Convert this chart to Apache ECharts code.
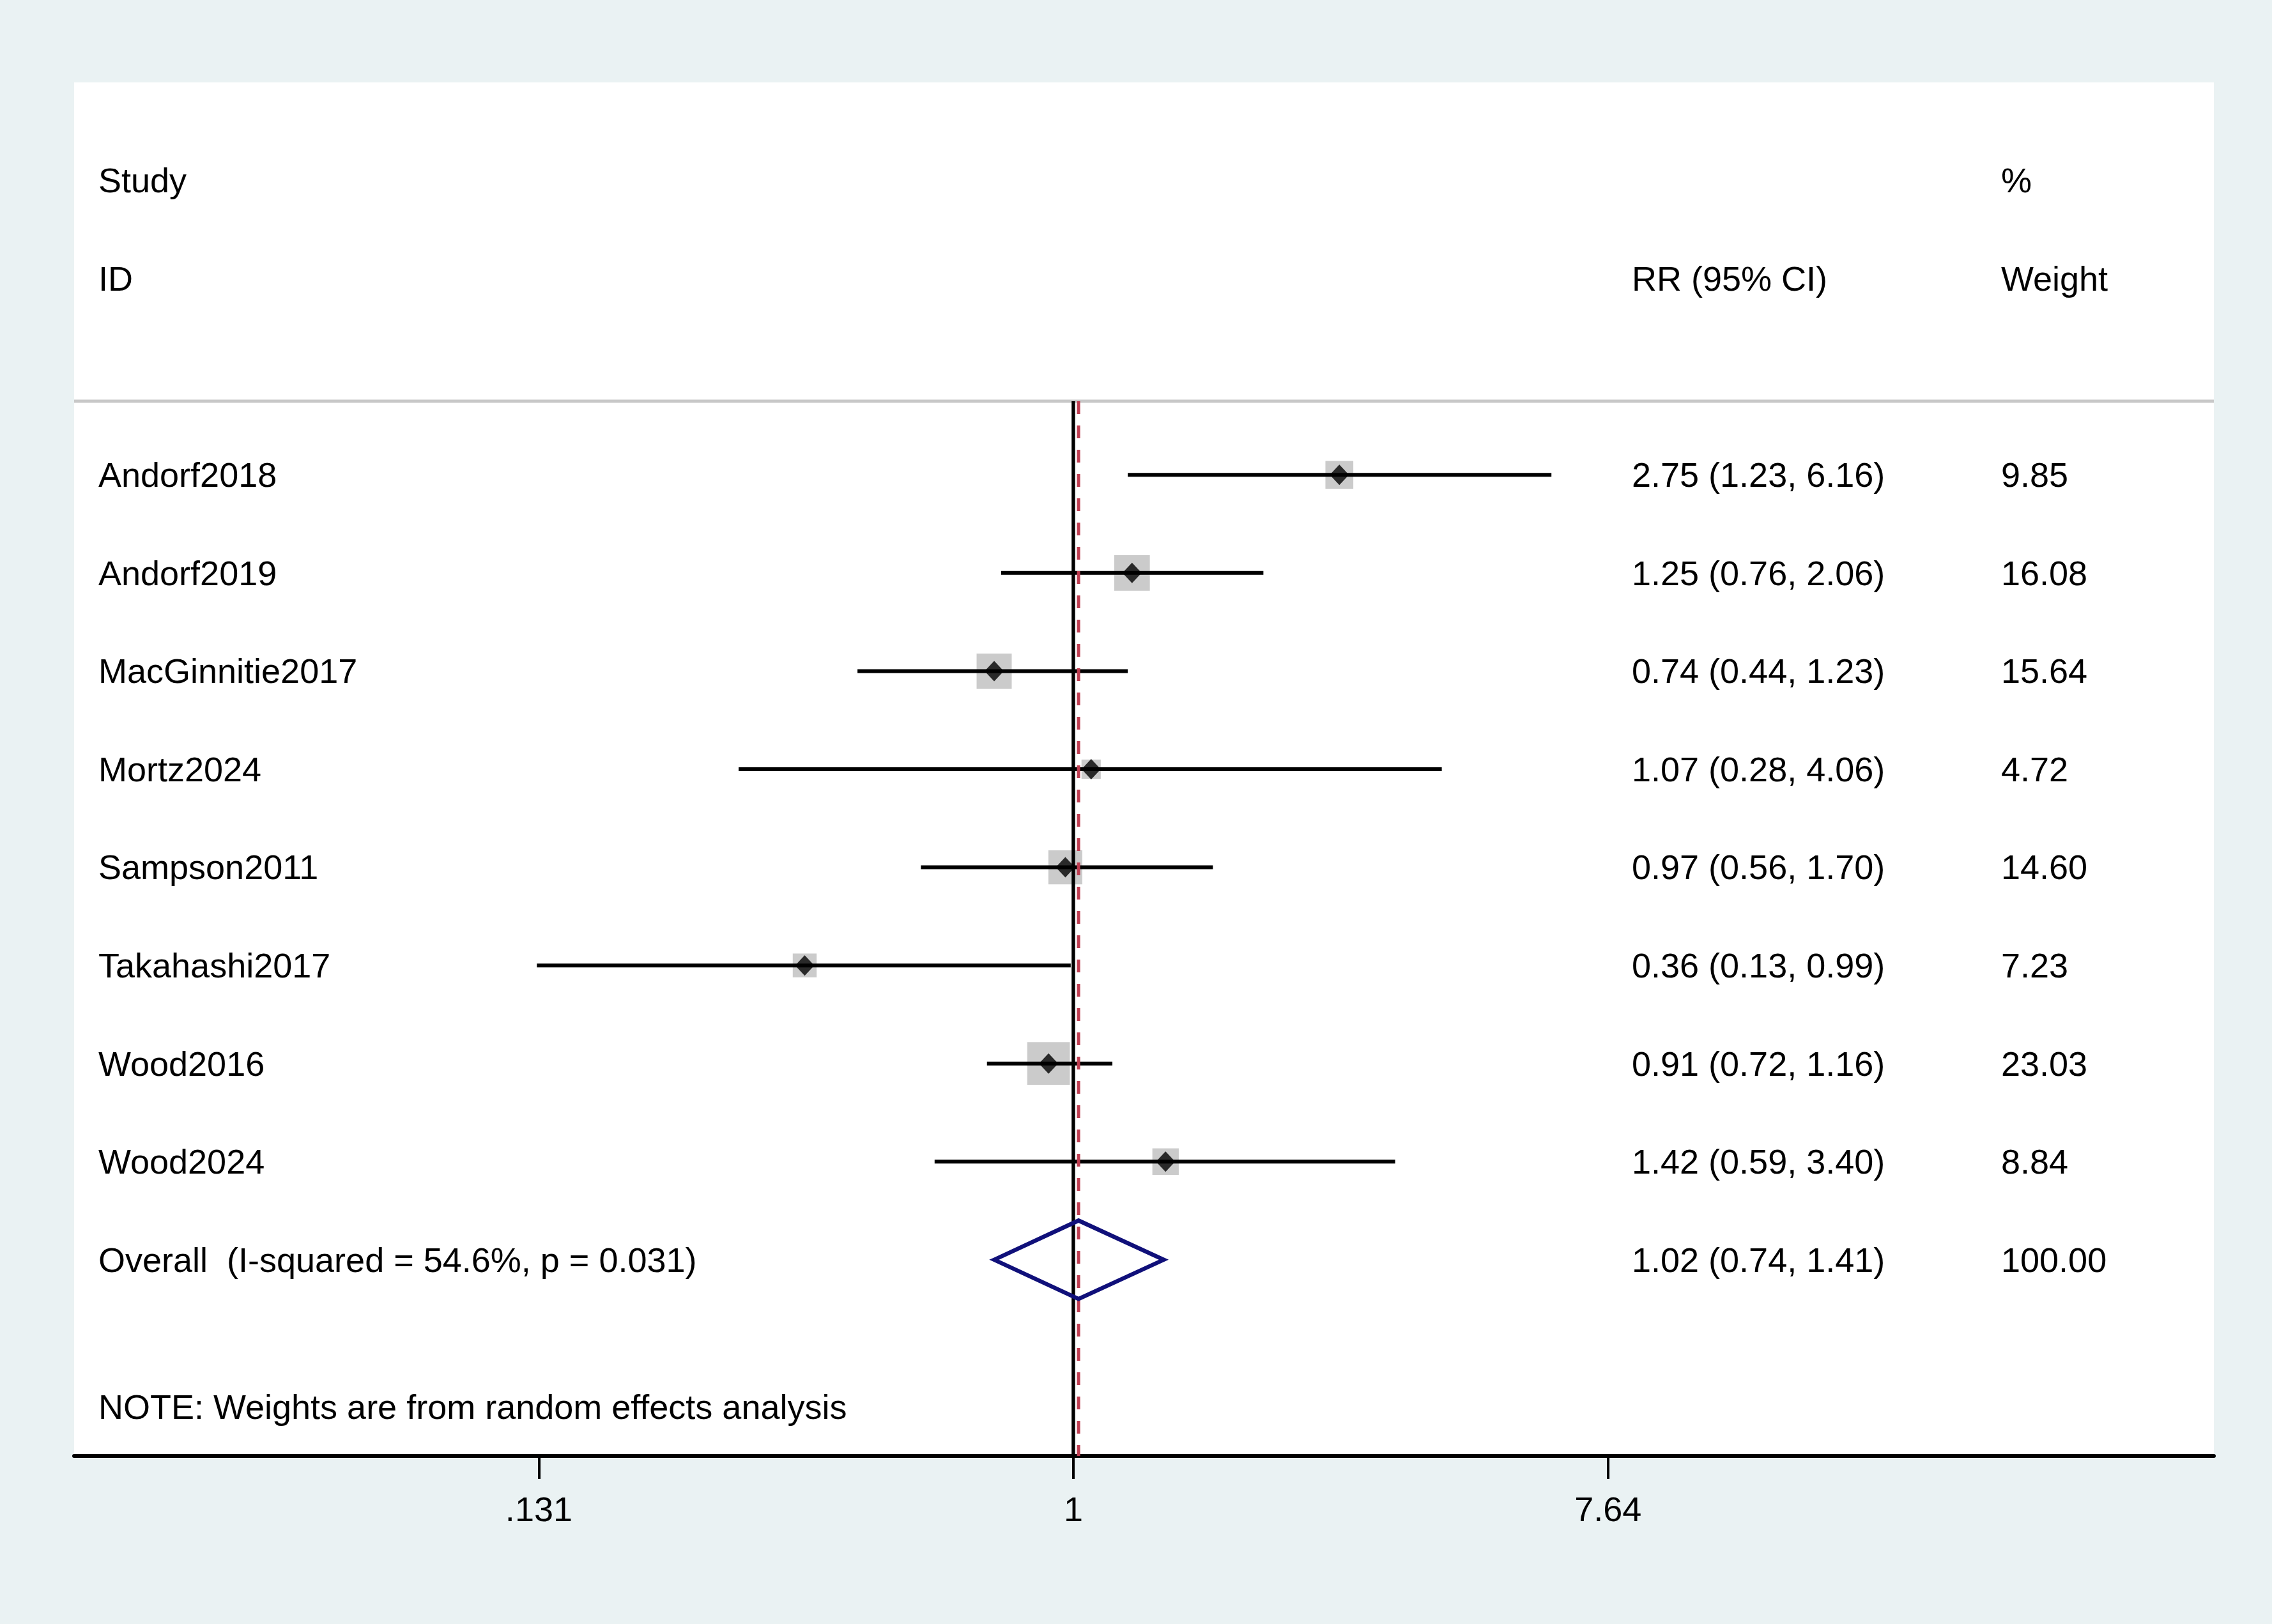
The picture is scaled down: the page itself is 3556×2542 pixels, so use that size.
<!DOCTYPE html>
<html><head><meta charset="utf-8">
<script src="https://cdn.jsdelivr.net/npm/echarts@6/dist/echarts.min.js"></script>
<style>html,body{margin:0;padding:0;background:#EAF2F3}#c{width:3556px;height:2542px}</style>
</head><body><div id="c"></div>
<script>
// ---- data ----
const studies = ['Andorf2018','Andorf2019','MacGinnitie2017','Mortz2024','Sampson2011','Takahashi2017','Wood2016','Wood2024'];
const rr      = [2.75, 1.25, 0.74, 1.07, 0.97, 0.36, 0.91, 1.42];
const ciLow   = [1.23, 0.76, 0.44, 0.28, 0.56, 0.13, 0.72, 0.59];
const ciHigh  = [6.16, 2.06, 1.23, 4.06, 1.70, 0.99, 1.16, 3.40];
const weights = [9.85, 16.08, 15.64, 4.72, 14.60, 7.23, 23.03, 8.84];
const overallLabel = 'Overall  (I-squared = 54.6%, p = 0.031)';
const overallRR = 1.02, overallLow = 0.74, overallHigh = 1.41, overallWeight = 100.00;
const nullValue = 1;
const tickValues = [0.131, 1, 7.64];
const tickLabels = ['.131', '1', '7.64'];
const noteText = 'NOTE: Weights are from random effects analysis';
const headerStudy = ['Study', 'ID'];
const headerRR = 'RR (95% CI)';
const headerWeight = ['%', 'Weight'];

// ---- layout helpers (row positions on the y scale) ----
const firstRow = 3, overallRow = firstRow + studies.length, noteRow = overallRow + 1.5;
const sepRow = 2.25, bottomRow = overallRow + 2;
const FONT = '"Liberation Sans", Arial, sans-serif';
const FS = 54;
const colStudy = 38, colRR = 2438, colW = 3016; // offsets from grid left
const textDy = 4;

const fmt = v => v.toFixed(2);
const texts = [];
texts.push({y:0, col:colStudy, t:headerStudy[0]});
texts.push({y:1, col:colStudy, t:headerStudy[1]});
texts.push({y:1, col:colRR, t:headerRR});
texts.push({y:0, col:colW, t:headerWeight[0]});
texts.push({y:1, col:colW, t:headerWeight[1]});
studies.forEach((s,i)=>{
  texts.push({y:firstRow+i, col:colStudy, t:s});
  texts.push({y:firstRow+i, col:colRR, t:fmt(rr[i])+' ('+fmt(ciLow[i])+', '+fmt(ciHigh[i])+')'});
  texts.push({y:firstRow+i, col:colW, t:fmt(weights[i])});
});
texts.push({y:overallRow, col:colStudy, t:overallLabel});
texts.push({y:overallRow, col:colRR, t:fmt(overallRR)+' ('+fmt(overallLow)+', '+fmt(overallHigh)+')'});
texts.push({y:overallRow, col:colW, t:fmt(overallWeight)});
texts.push({y:noteRow, col:colStudy, t:noteText});

const chart = echarts.init(document.getElementById('c'));
const option = {
  backgroundColor: '#EAF2F3',
  animation: false,
  grid: {left:116, right:91, top:129, bottom:263, show:true, backgroundColor:'#FFFFFF', borderWidth:0},
  xAxis: {
    type:'log', logBase: Math.E, min:0.02237, max:76.5,
    splitLine:{show:false}, minorTick:{show:false}, minorSplitLine:{show:false},
    axisLine:{show:true, onZero:false, lineStyle:{color:'#000', width:6}},
    axisTick:{show:true, length:36, lineStyle:{color:'#000', width:4}, customValues: tickValues},
    axisLabel:{show:true, color:'#000', fontSize:FS, fontFamily:FONT, margin:60, customValues: tickValues,
      formatter: v => { let best=0, d=Infinity; tickValues.forEach((t,i)=>{const dd=Math.abs(Math.log(t)-Math.log(v)); if(dd<d){d=dd;best=i;}}); return tickLabels[best]; }}
  },
  yAxis: {type:'value', inverse:true, min:-1, max:bottomRow, show:false},
  series: [
    { // separator line
      type:'custom', silent:true, z:1, data:[[nullValue, sepRow]], encode:{x:0,y:1},
      renderItem:(p,api)=>{ const y=api.coord([api.value(0), api.value(1)])[1]; const cs=p.coordSys;
        return {type:'line', shape:{x1:cs.x, y1:y, x2:cs.x+cs.width, y2:y}, style:{stroke:'#C8C8C8', lineWidth:5}}; }
    },
    { // weight boxes
      type:'scatter', silent:true, z:2, symbol:'rect',
      data: rr.map((v,i)=>[v, firstRow+i]),
      symbolSize:(val, params)=> 13.9*Math.sqrt(weights[params.dataIndex]),
      itemStyle:{color:'#BEBEBE'}
    },
    { // null line at 1
      type:'custom', silent:true, z:3, data:[[nullValue, sepRow, bottomRow]], encode:{x:0,y:[1,2]},
      renderItem:(p,api)=>{ const a=api.coord([api.value(0), api.value(1)]), b=api.coord([api.value(0), api.value(2)]);
        return {type:'line', shape:{x1:a[0], y1:a[1], x2:b[0], y2:b[1]}, style:{stroke:'#000', lineWidth:5.5}}; }
    },
    { // confidence intervals
      type:'custom', silent:true, z:4, data: studies.map((s,i)=>[ciLow[i], ciHigh[i], firstRow+i]), encode:{x:[0,1], y:2},
      renderItem:(p,api)=>{ const a=api.coord([api.value(0), api.value(2)]), b=api.coord([api.value(1), api.value(2)]);
        return {type:'line', shape:{x1:a[0], y1:a[1], x2:b[0], y2:b[1]}, style:{stroke:'#000', lineWidth:6}}; }
    },
    { // overall dashed line
      type:'custom', silent:true, z:5, data:[[overallRR, sepRow, bottomRow]], encode:{x:0,y:[1,2]},
      renderItem:(p,api)=>{ const a=api.coord([api.value(0), api.value(1)]), b=api.coord([api.value(0), api.value(2)]);
        return {type:'line', shape:{x1:a[0], y1:a[1], x2:b[0], y2:b[1]}, style:{stroke:'#BE3C50', lineWidth:5, lineDash:[20,18]}}; }
    },
    { // point estimates
      type:'scatter', silent:true, z:6, symbol:'diamond', symbolSize:[30,32],
      data: rr.map((v,i)=>[v, firstRow+i]), itemStyle:{color:'#000'}
    },
    { // overall diamond
      type:'custom', silent:true, z:7, data:[[overallLow, overallRR, overallHigh, overallRow]], encode:{x:[0,1,2], y:3},
      renderItem:(p,api)=>{ const y=api.value(3), h=0.4;
        const l=api.coord([api.value(0), y]), t=api.coord([api.value(1), y-h]), r=api.coord([api.value(2), y]), b=api.coord([api.value(1), y+h]);
        return {type:'polygon', shape:{points:[l,t,r,b]}, style:{fill:'none', stroke:'#10107A', lineWidth:6.5, lineJoin:'miter'}}; }
    },
    { // text columns
      type:'custom', silent:true, z:8, data: texts.map(o=>[nullValue, o.y]), encode:{x:0,y:1},
      renderItem:(p,api)=>{ const o=texts[p.dataIndex]; const y=api.coord([api.value(0), api.value(1)])[1];
        return {type:'text', style:{x:p.coordSys.x+o.col, y:y+textDy, text:o.t, fill:'#000', fontSize:FS, fontFamily:FONT, align:'left', verticalAlign:'middle'}}; }
    }
  ]
};
chart.setOption(option);
</script></body></html>
